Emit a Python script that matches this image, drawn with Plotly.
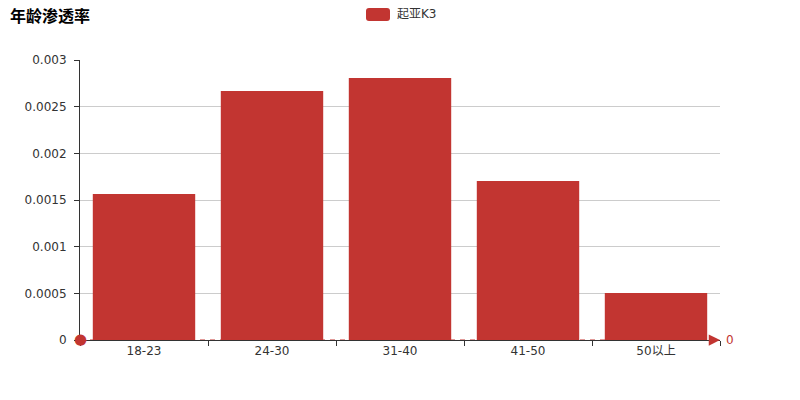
import plotly.graph_objects as go

categories = ["18-23", "24-30", "31-40", "41-50", "50以上"]
values = [0.001564, 0.002668, 0.002807, 0.001704, 0.000504]
series_name = "起亚K3"
y_tickvals = [0, 0.0005, 0.001, 0.0015, 0.002, 0.0025, 0.003]
y_ticktext = ["0", "0.0005", "0.001", "0.0015", "0.002", "0.0025", "0.003"]
mark_value = 0
title_text = "年龄渗透率"

red = "#c23531"
font_family = "DejaVu Sans, Noto Sans CJK SC, sans-serif"

fig = go.Figure()
fig.add_trace(go.Bar(x=categories, y=values, name=series_name,
                     marker=dict(color=red, line=dict(width=0)), showlegend=False))

# markLine (dashed) at y = mark_value on an overlay numeric x axis
fig.add_trace(go.Scatter(x=[0, 1], y=[mark_value, mark_value], xaxis="x2", mode="lines",
                         line=dict(color=red, width=1, dash="5px,5px"), showlegend=False,
                         hoverinfo="skip", cliponaxis=False))

fig.update_layout(
    width=792, height=392,
    margin=dict(l=72, r=80, t=52, b=60, autoexpand=False),
    plot_bgcolor="white", paper_bgcolor="white",
    font=dict(family=font_family, size=12, color="#333"),
    bargap=0.2,
    title=dict(text="<b>" + title_text + "</b>", x=0, xanchor="left", xref="container",
               y=1, yanchor="top", yref="container", pad=dict(l=2, t=3),
               font=dict(size=16, color="#000", family=font_family)),
    xaxis=dict(type="category", showline=True, linecolor="#333", linewidth=1,
               ticks="outside", tickson="boundaries", ticklen=5, tickcolor="#333",
               showgrid=False, range=[-0.5, 4.5], fixedrange=True),
    xaxis2=dict(overlaying="x", range=[0, 1], visible=False, fixedrange=True),
    yaxis=dict(range=[0, 0.003], tickvals=y_tickvals, ticktext=y_ticktext,
               showline=True, linecolor="#333", linewidth=1, ticks="outside", ticklen=5,
               tickcolor="#333", showgrid=True, gridcolor="#ccc", gridwidth=1,
               zeroline=False, fixedrange=True, ticklabelstandoff=5),
)

# start symbol (circle), arrow head at the end of the markLine, and its label
fig.add_annotation(x=0, y=mark_value, xref="paper", yref="y", xanchor="center", yanchor="middle",
                   showarrow=False, text="●", yshift=1, font=dict(color=red, size=15))
fig.add_annotation(x=1, y=mark_value, xref="paper", yref="y", ax=-12, ay=0, axref="pixel", ayref="pixel",
                   showarrow=True, arrowhead=2, arrowsize=1.5, arrowwidth=1.5, arrowcolor=red, text="")
fig.add_annotation(x=1, y=mark_value, xref="paper", yref="y", xanchor="left", xshift=4, showarrow=False,
                   text=str(mark_value), font=dict(color=red, size=12))

# legend (ECharts style rounded rectangle + label)
x0, x1 = 286 / 640, 310 / 640
y1, y0 = 332 / 280, (332 - 13) / 280
rx, ry = 3 / 640, 3 / 280
path = (f"M {x0+rx},{y1} L {x1-rx},{y1} Q {x1},{y1} {x1},{y1-ry} L {x1},{y0+ry} "
        f"Q {x1},{y0} {x1-rx},{y0} L {x0+rx},{y0} Q {x0},{y0} {x0},{y0+ry} "
        f"L {x0},{y1-ry} Q {x0},{y1} {x0+rx},{y1} Z")
fig.add_shape(type="path", xref="paper", yref="paper", path=path, fillcolor=red,
              line=dict(width=0))
fig.add_annotation(x=315 / 640, y=(332 - 6.5) / 280, xref="paper", yref="paper", xanchor="left",
                   yanchor="middle", showarrow=False, text=series_name,
                   font=dict(size=12, color="#333"))

fig.write_html("out.html")
